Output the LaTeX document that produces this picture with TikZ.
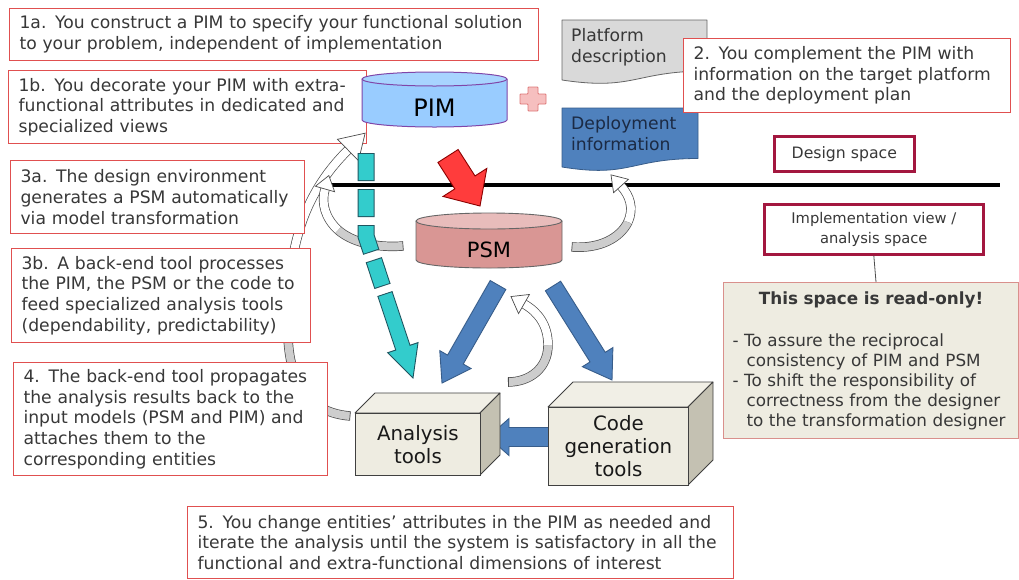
\documentclass[tikz,border=0pt]{standalone}
\usepackage{fontspec}
\setmainfont{DejaVu Sans}
\usetikzlibrary{calc}

\definecolor{boxred}{HTML}{E05050}
\definecolor{spacered}{HTML}{A3173F}
\definecolor{txtgray}{HTML}{383838}
\definecolor{paperbeige}{HTML}{EEECE1}
\definecolor{paperside}{HTML}{C4C1B2}
\definecolor{paperedge}{HTML}{D9908C}
\definecolor{pimfill}{HTML}{99CCFF}
\definecolor{pimtopfill}{HTML}{A8D4FF}
\definecolor{pimline}{HTML}{8046A8}
\definecolor{psmbody}{HTML}{D99694}
\definecolor{psmtopfill}{HTML}{E8BCBB}
\definecolor{flowblue}{HTML}{4F81BD}
\definecolor{flowblueline}{HTML}{385D8A}
\definecolor{docfill}{HTML}{D9D9D9}
\definecolor{deploytext}{HTML}{1B2A44}
\definecolor{tealfill}{HTML}{33CCCC}
\definecolor{tealline}{HTML}{1F5560}
\definecolor{hotred}{HTML}{FF3C3C}
\definecolor{plusfill}{HTML}{F6BFBF}
\definecolor{plusline}{HTML}{DE7878}
\definecolor{ribbongray}{HTML}{CDCDCD}

% block arrow: #1 style, #2 tail, #3 tip, #4 half shaft width, #5 half head width, #6 head length
\newcommand\fatarrow[6]{%
  \draw[#1] ($(#2)!#4!90:(#3)$) -- ($(#3)!#6!(#2)!#4!-90:(#2)$)
    -- ($(#3)!#6!(#2)!#5!-90:(#2)$) -- (#3)
    -- ($(#3)!#6!(#2)!#5!90:(#2)$) -- ($(#3)!#6!(#2)!#4!90:(#2)$)
    -- ($(#2)!#4!-90:(#3)$) -- cycle;}

% curved ribbon arrow: tail #1, controls #2 #3, joint #4, controls #5 #6, head base #7,
% half head width #8, head length #9
\newcommand\ribbonarrow[9]{%
  \draw[ribbonback] (#1) .. controls (#2) and (#3) .. (#4);
  \draw[ribbonfront] (#4) .. controls (#5) and (#6) .. (#7);
  \draw[ribbonend] ($(#1)!4.7pt!90:(#2)$) -- ($(#1)!4.7pt!-90:(#2)$);
  \draw[ribbonhead] ($(#7)!#8!90:(#6)$) -- ($(#7)!-#9!(#6)$) -- ($(#7)!#8!-90:(#6)$) -- cycle;}

\begin{document}
\begin{tikzpicture}[x=1pt,y=-1pt,
  tbox/.style={draw=boxred, line width=1.1pt, fill=white, anchor=north west,
    inner xsep=10pt, inner ysep=0pt, align=left, text=txtgray,
    font=\fontsize{17.2}{20.7}\selectfont},
  spacebox/.style={draw=spacered, line width=2.6pt, fill=white, anchor=north west,
    inner sep=0pt, align=center, text=txtgray},
  docshape/.style={line width=0.8pt, line join=round},
  doctext/.style={anchor=north west, inner sep=0pt, align=left,
    font=\fontsize{17.2}{21.5}\selectfont},
  flowarrow/.style={fill=flowblue, draw=flowblueline, line width=0.9pt, line join=miter},
  ribbonback/.style={draw=black!70, line width=0.7pt, double=ribbongray, double distance=8pt},
  ribbonfront/.style={draw=black!70, line width=0.7pt, double=white, double distance=8pt},
  ribbonend/.style={draw=black!70, line width=0.7pt},
  ribbonhead/.style={draw=black!70, fill=white, line width=0.7pt, line join=miter},
  facefront/.style={draw=black!75, fill=paperbeige, line width=0.8pt, anchor=north west,
    inner sep=0pt, align=center, text=black!90, font=\fontsize{19.8}{23}\selectfont},
  faceside/.style={draw=black!75, fill=paperside, line width=0.8pt, line join=round},
  facetop/.style={draw=black!75, fill=paperbeige!85!white, line width=0.8pt, line join=round},
]
\fill[white] (0,0) rectangle (1019,579);
\useasboundingbox (0,0) rectangle (1019,579);

% border between design space and implementation space
\coordinate (divL) at (325,185);
\coordinate (divR) at (1000,185);
\draw[line width=4pt] (divL) -- (divR);

% platform and deployment documents
\draw[docshape, fill=docfill, draw=black!60] (562,20) -- (707,20) -- (707,71)
  .. controls (634.5,71) and (634.5,91) .. (562,80) -- cycle;
\node[doctext, text=txtgray] (plat) at (571,28) {Platform\\description};
\draw[docshape, fill=flowblue, draw=flowblueline] (562,108) -- (698,108) -- (698,158.5)
  .. controls (630,158.5) and (630,178) .. (562,167) -- cycle;
\node[doctext, text=deploytext] (depl) at (571,116) {Deployment\\information};

% steps 1a and 1b
\node[tbox, text width=509pt, minimum height=52pt] (s1a) at (9,8)
  {1a. You construct a PIM to specify your functional solution\\to your problem, independent of implementation};
\node[tbox, text width=338pt, minimum height=73pt] (s1b) at (8,70)
  {1b. You decorate your PIM with extra-\\functional attributes in dedicated and\\specialized views};

% curved feedback ribbons
\coordinate (bT) at (350,416); \coordinate (bJ) at (288,320); \coordinate (bH) at (348,150);
\ribbonarrow{bT}{300,412}{286,370}{bJ}{289,270}{292,205}{bH}{15pt}{24pt}
\coordinate (aT) at (403,246); \coordinate (aJ) at (338,230); \coordinate (aH) at (325,189);
\ribbonarrow{aT}{375,248}{352,242}{aJ}{325,218}{321,203}{aH}{10pt}{14pt}
\coordinate (cT) at (572,247); \coordinate (cJ) at (628,222); \coordinate (cH) at (621,186);
\ribbonarrow{cT}{600,249}{620,238}{cJ}{634,208}{630,196}{cH}{10pt}{15pt}
\coordinate (dT) at (508,382); \coordinate (dJ) at (548,345); \coordinate (dH) at (524,304);
\ribbonarrow{dT}{530,382}{548,368}{dJ}{548,325}{538,312}{dH}{11pt}{15pt}

% steps 3a, 3b, 4 and 5
\node[tbox, text width=274pt, minimum height=73pt] (s3a) at (10,160)
  {3a. The design environment\\generates a PSM automatically\\via model transformation};
\node[tbox, text width=279pt, minimum height=94pt] (s3b) at (11,248)
  {3b. A back-end tool processes\\the PIM, the PSM or the code to\\feed specialized analysis tools\\(dependability, predictability)};
\node[tbox, text width=294pt, minimum height=113pt] (s4) at (13,362)
  {4. The back-end tool propagates\\the analysis results back to the\\input models (PSM and PIM) and\\attaches them to the\\corresponding entities};
\node[tbox, text width=526pt, minimum height=72pt] (s5) at (187,506)
  {5. You change entities’ attributes in the PIM as needed and\\iterate the analysis until the system is satisfactory in all the\\functional and extra-functional dimensions of interest};

% PIM cylinder
\fill[pimfill] (362,79) -- (362,120) arc[start angle=180, end angle=0, x radius=72.5, y radius=7] -- (507,79) -- cycle;
\draw[pimline, line width=1pt] (362,79) -- (362,120) arc[start angle=180, end angle=0, x radius=72.5, y radius=7] -- (507,79);
\draw[pimline, line width=1pt, fill=pimtopfill] (434.5,79) ellipse[x radius=72.5, y radius=7];
\node[anchor=base, font=\fontsize{24}{28}\selectfont] (pim) at (434.5,116) {PIM};

% plus sign
\draw[fill=plusfill, draw=plusline, line width=0.9pt, rounded corners=0.8pt]
  (528,87) -- (538,87) -- (538,94) -- (546,94) -- (546,104) -- (538,104) -- (538,111)
  -- (528,111) -- (528,104) -- (520,104) -- (520,94) -- (528,94) -- cycle;

% PSM cylinder
\fill[psmbody] (416,221) -- (416,260) arc[start angle=180, end angle=0, x radius=73, y radius=8] -- (562,221) -- cycle;
\draw[black!60, line width=0.9pt] (416,221) -- (416,260) arc[start angle=180, end angle=0, x radius=73, y radius=8] -- (562,221);
\draw[black!60, line width=0.9pt, fill=psmtopfill] (489,221) ellipse[x radius=73, y radius=8];
\node[anchor=base, font=\fontsize{21}{25}\selectfont] (psm) at (489,257) {PSM};

% model transformation PIM -> PSM
\coordinate (r1) at (448,156); \coordinate (r2) at (480,206);
\fatarrow{fill=hotred, draw=red!55!black, line width=0.9pt}{r1}{r2}{12pt}{26pt}{28pt}

% PIM processed directly by the analysis tools
\coordinate (cyA) at (366,153); \coordinate (cyB) at (366,236);
\coordinate (cyC) at (385,294); \coordinate (cyD) at (413,378);
\draw[tealline, line width=17pt, dash pattern=on 28pt off 8pt] (cyA) -- (cyB) -- (cyC);
\draw[tealfill, line width=15pt, dash pattern=on 26pt off 10pt, dash phase=35pt] (cyA) -- (cyB) -- (cyC);
\fatarrow{fill=tealfill, draw=tealline, line width=0.9pt}{cyC}{cyD}{7.5pt}{16pt}{32pt}

% PSM to the tools, code generation to analysis
\coordinate (bl1) at (498,285); \coordinate (bl2) at (442,383);
\coordinate (br1) at (553,286); \coordinate (br2) at (612,380);
\coordinate (bh1) at (549,437); \coordinate (bh2) at (488,437);
\fatarrow{flowarrow}{bl1}{bl2}{9pt}{18pt}{27pt}
\fatarrow{flowarrow}{br1}{br2}{9pt}{18pt}{27pt}
\fatarrow{flowarrow}{bh1}{bh2}{9.5pt}{18.5pt}{21pt}

% analysis tools block
\draw[facetop] (355,413) -- (375,393) -- (500,393) -- (480,413) -- cycle;
\draw[faceside] (480,413) -- (500,393) -- (500,455) -- (480,475) -- cycle;
\node[facefront, minimum width=125pt, minimum height=62pt] (ana) at (355,413) {Analysis\\tools};

% code generation tools block
\draw[facetop] (548,407) -- (573,382) -- (713,382) -- (688,407) -- cycle;
\draw[faceside] (688,407) -- (713,382) -- (713,460) -- (688,485) -- cycle;
\node[facefront, minimum width=140pt, minimum height=78pt] (cgen) at (548,407) {Code\\generation\\tools};

% step 2
\node[tbox, text width=307pt, minimum height=74pt] (s2) at (683,38)
  {2. You complement the PIM with\\information on the target platform\\and the deployment plan};

% space labels
\node[spacebox, minimum width=140pt, minimum height=35pt, font=\fontsize{15.7}{19}\selectfont] (design) at (773,135) {Design space};
\node[spacebox, minimum width=219pt, minimum height=50pt, font=\fontsize{14.7}{20}\selectfont] (impl) at (763,203) {Implementation view /\\analysis space};

% read-only note
\node[draw=paperedge, fill=paperbeige, line width=1pt, anchor=north west, inner xsep=9pt, inner ysep=0pt,
  text width=277pt, minimum height=156pt, align=left, text=txtgray,
  font=\fontsize{16.8}{20}\selectfont] (ro) at (723,282)
  {\makebox[277pt][c]{\bfseries This space is read-only!}\\[22pt]
   \mbox{- To assure the reciprocal}\\
   \mbox{\hspace*{14pt}consistency of PIM and PSM}\\
   \mbox{- To shift the responsibility of}\\
   \mbox{\hspace*{14pt}correctness from the designer}\\
   \mbox{\hspace*{14pt}to the transformation designer}};
\draw[black!70, line width=0.8pt] (impl.south) -- ([xshift=5pt]ro.north);
\end{tikzpicture}
\end{document}
